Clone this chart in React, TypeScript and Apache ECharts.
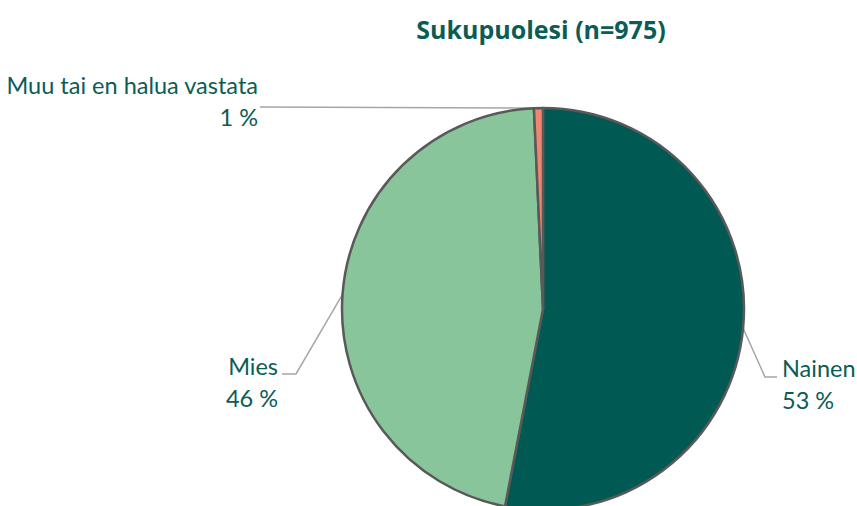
import React, { useEffect, useRef } from "react";
import * as echarts from "echarts";

const titleText = "Sukupuolesi (n=975)";
const categories = ["Nainen", "Mies", "Muu tai en halua vastata"];
const counts = [517, 451, 7];
const colors = ["#005A53", "#88C59A", "#F0866F"];

// label placement (layout only)
const labelPlacement = [
  { x: 782, y: 384, align: "left", knee: [765, 377], end: [777, 377] },
  { x: 278, y: 382, align: "right", knee: [296, 374], end: [282, 374] },
  { x: 258, y: 101, align: "right", knee: [260, 107], end: [260, 107] },
];

export default function App() {
  const ref = useRef<HTMLDivElement>(null);
  useEffect(() => {
    document.body.style.margin = "0";
    const chart = echarts.init(ref.current!, null, { renderer: "svg" });
    chart.setOption({
      animation: false,
      backgroundColor: "#ffffff",
      graphic: [
        {
          type: "text",
          x: 541,
          y: 29,
          style: {
            text: titleText,
            fill: "#0B5C55",
            font: "bold 25px 'Open Sans'",
            textAlign: "center",
            textVerticalAlign: "middle",
          },
        },
      ],
      series: [
        {
          type: "pie",
          center: [543, 309],
          radius: 201,
          startAngle: 90,
          clockwise: true,
          data: categories.map((c, i) => ({
            name: c,
            value: counts[i],
            itemStyle: { color: colors[i] },
          })),
          itemStyle: { borderColor: "#595959", borderWidth: 2.5 },
          label: {
            show: true,
            color: "#0B5C55",
            fontFamily: "Lato",
            fontSize: 23.5,
            lineHeight: 32,
            overflow: "none",
            formatter: (p: any) => `${p.name}\n${Math.round(p.percent)} %`,
          },
          labelLine: {
            show: true,
            length: 20,
            length2: 20,
            lineStyle: { color: "#A6A6A6", width: 1.5 },
          },
          labelLayout: (params: any) => {
            const cfg = labelPlacement[params.dataIndex];
            const pts = params.labelLinePoints;
            const p0 = pts && pts[0] ? pts[0] : cfg.knee;
            return {
              x: cfg.x,
              y: cfg.y,
              align: cfg.align,
              verticalAlign: "middle",
              width: 300,
              labelLinePoints: [p0, cfg.knee, cfg.end],
            };
          },
          emphasis: { disabled: true },
        },
      ],
    });
    return () => chart.dispose();
  }, []);
  return <div ref={ref} style={{ width: 857, height: 506 }} />;
}
